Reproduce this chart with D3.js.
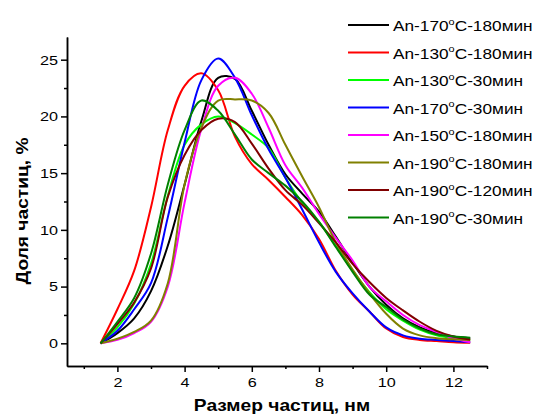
<!DOCTYPE html>
<html>
<head>
<meta charset="utf-8">
<script src="https://cdn.jsdelivr.net/npm/d3@7"></script>
<style>
  body { margin: 0; background: #fff; }
  svg { font-family: "Liberation Sans", Arial, sans-serif; }
</style>
</head>
<body>
<script>
// particle size grid, nm
const sizes = [1.5, 2, 2.5, 3, 3.5, 4, 4.5, 5, 5.5, 6, 6.5, 7, 7.5, 8, 8.5, 9, 9.5, 10, 10.5, 11, 11.5, 12, 12.5];

const seriesNames = [
  "170|180", "130|180", "130|30", "170|30",
  "150|180", "190|180", "190|120", "190|30"
];
const seriesColors = ["#000000", "#ff0000", "#00ff00", "#0000ff", "#ff00ff", "#808000", "#800000", "#008000"];

const an170_180 = [0, 0.9, 2.2, 4.6, 8.6, 14.0, 19.6, 23.4, 23.3, 20.5, 17.5, 14.9, 13.2, 11.6, 9.4, 7.1, 5.0, 3.4, 2.2, 1.4, 0.9, 0.6, 0.45];
const an130_180 = [0, 3.0, 6.4, 12.0, 18.8, 22.7, 23.8, 22.3, 18.2, 15.8, 14.4, 12.9, 11.3, 9.2, 6.4, 4.3, 2.8, 1.3, 0.55, 0.3, 0.2, 0.1, 0.05];
const an130_30 = [0, 1.4, 3.5, 7.0, 13.0, 17.5, 19.3, 20.0, 19.4, 18.4, 17.2, 14.6, 12.4, 10.7, 8.6, 6.4, 4.5, 3.0, 2.0, 1.2, 0.7, 0.45, 0.3];
const an170_30 = [0, 1.1, 3.0, 5.3, 11.1, 17.7, 23.2, 25.1, 23.4, 20.1, 17.1, 14.6, 11.8, 8.9, 6.3, 4.4, 2.8, 1.4, 0.7, 0.4, 0.3, 0.2, 0.1];
const an150_180 = [0, 0.3, 0.9, 1.9, 5.0, 12.4, 18.9, 22.7, 23.4, 22.0, 19.0, 15.7, 13.7, 11.4, 9.3, 7.3, 5.0, 3.7, 2.5, 1.6, 1.0, 0.45, 0.1];
const an190_180 = [0, 0.4, 1.0, 2.0, 5.3, 14.0, 19.0, 21.4, 21.5, 21.4, 20.3, 17.5, 14.7, 12.0, 8.9, 6.5, 4.4, 2.6, 1.3, 0.7, 0.45, 0.35, 0.3];
const an190_120 = [0, 1.7, 3.6, 6.6, 12.9, 16.6, 18.8, 19.8, 19.5, 17.6, 15.4, 13.5, 12.2, 10.6, 8.9, 7.0, 5.4, 4.0, 2.9, 1.9, 1.1, 0.6, 0.33];
const an190_30 = [0, 1.9, 4.0, 7.9, 14.0, 18.8, 21.4, 20.5, 18.4, 16.2, 15.0, 13.9, 12.5, 10.7, 8.5, 6.3, 4.3, 3.2, 2.1, 1.3, 0.8, 0.6, 0.5];

const seriesValues = [an170_180, an130_180, an130_30, an170_30, an150_180, an190_180, an190_120, an190_30];

const xMajor = [2, 4, 6, 8, 10, 12];
const xMinor = [1, 3, 5, 7, 9, 11, 13];
const yMajor = [0, 5, 10, 15, 20, 25];
const yMinor = [2.5, 7.5, 12.5, 17.5, 22.5];

const w = 540;
const h = 414;
const plotLeft = 67, plotRight = 487, plotTop = 37, plotBottom = 366;
const stretch = 1.2; // text in the picture is a bit wide

const xScale = d3.scaleLinear().domain([0.5, 13]).range([plotLeft, plotRight]);
const yScale = d3.scaleLinear().domain([-2, 27]).range([plotBottom, plotTop]);

const svg = d3.select("body").append("svg").attr("width", w).attr("height", h);

// curves
const line = d3.line()
  .x((d) => xScale(d[0]))
  .y((d) => yScale(d[1]))
  .curve(d3.curveCatmullRom.alpha(0.5));

svg.append("g")
  .selectAll("path")
  .data(seriesValues)
  .enter()
  .append("path")
  .attr("d", (vals) => line(vals.map((v, i) => [sizes[i], v])))
  .attr("fill", "none")
  .attr("stroke", (d, i) => seriesColors[i])
  .attr("stroke-width", 2);

// axes
const xAxis = d3.axisBottom(xScale).tickValues(xMajor).tickSize(6).tickSizeOuter(0).tickPadding(5);
const xAxisMinor = d3.axisBottom(xScale).tickValues(xMinor).tickSize(3).tickSizeOuter(0).tickFormat("");
const yAxis = d3.axisLeft(yScale).tickValues(yMajor).tickSize(6).tickSizeOuter(0).tickPadding(3);
const yAxisMinor = d3.axisLeft(yScale).tickValues(yMinor).tickSize(3).tickSizeOuter(0).tickFormat("");

function styleAxis(g) {
  g.select(".domain").attr("stroke-width", 1.5);
  g.selectAll(".tick line").attr("stroke-width", 1.5);
  g.selectAll("text").style("font-size", "13.5px").attr("fill", "#000");
}

svg.append("g").attr("transform", "translate(0," + plotBottom + ")").call(xAxisMinor).call(styleAxis);
const gx = svg.append("g").attr("transform", "translate(0," + plotBottom + ")").call(xAxis).call(styleAxis);
gx.selectAll("text").attr("transform", "scale(" + stretch + ",1)");

svg.append("g").attr("transform", "translate(" + plotLeft + ",0)").call(yAxisMinor).call(styleAxis);
const gy = svg.append("g").attr("transform", "translate(" + plotLeft + ",0)").call(yAxis).call(styleAxis);
gy.selectAll("text").attr("x", -9 / stretch).attr("transform", "scale(" + stretch + ",1)");

// axis titles
svg.append("text")
  .attr("transform", "translate(" + 282 + "," + 411 + ") scale(" + stretch + ",1)")
  .attr("text-anchor", "middle")
  .style("font-size", "16px")
  .style("font-weight", "bold")
  .text("Размер частиц, нм");

svg.append("text")
  .attr("transform", "translate(" + 28 + "," + 211 + ") rotate(-90) scale(" + stretch + ",1)")
  .attr("text-anchor", "middle")
  .style("font-size", "16px")
  .style("font-weight", "bold")
  .text("Доля частиц, %");

// legend
const legendX = 348, legendY = 25, legendStep = 27.5;
const legend = svg.append("g");
seriesNames.forEach((name, i) => {
  const [temp, time] = name.split("|");
  const y = legendY + i * legendStep;
  legend.append("line")
    .attr("x1", legendX).attr("x2", legendX + 41)
    .attr("y1", y).attr("y2", y)
    .attr("stroke", seriesColors[i])
    .attr("stroke-width", 2);
  const t = legend.append("text")
    .attr("transform", "translate(" + (legendX + 45) + "," + (y + 6) + ") scale(1.15,1)")
    .style("font-size", "15px");
  t.append("tspan").text("An-" + temp);
  t.append("tspan").attr("dy", -6.5).style("font-size", "9.5px").text("o");
  t.append("tspan").attr("dy", 6.5).text("C-" + time + "мин");
});
</script>
</body>
</html>
